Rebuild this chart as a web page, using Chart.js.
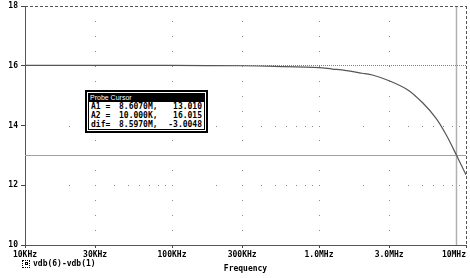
<!DOCTYPE html>
<html>
<head>
<meta charset="utf-8">
<script src="https://cdn.jsdelivr.net/npm/chart.js@4.4.1/dist/chart.umd.min.js"></script>
<style>
    html, body { margin: 0; padding: 0; background: #fff; }
    #wrap { position: relative; width: 470px; height: 278px; }
    #chart { position: absolute; left: 0; top: 0; }
    .mono { font-family: "DejaVu Sans Mono", monospace; font-weight: bold; font-size: 8px; color: #000; }
    #probe {
        position: absolute; left: 85px; top: 90px; width: 117px; height: 37px;
        border: 2px solid #000; padding: 1px; background: #fff;
    }
    #probe .inner { border: 1px solid #000; height: 35px; }
    #probe .bar {
        background: #000; color: #fff; height: 8px; line-height: 8px;
        font-family: "Liberation Sans", sans-serif; font-weight: normal; font-size: 7px; padding-left: 1px;
    }
    #probe .row { display: flex; height: 9px; line-height: 9px; padding: 0 2px 0 2px; white-space: pre; }
    #probe .row span { flex: none; }
    #probe .row span:nth-child(1) { width: 28px; }
    #probe .row span:nth-child(2) { width: 44px; }
    #probe .row span:nth-child(3) { flex: 1 1 auto; text-align: right; }
    #legend { position: absolute; left: 22px; top: 259px; display: flex; align-items: center; }
    #legend .mark {
        width: 6px; height: 6px; border: 1px dotted #000; margin-right: 3px;
        display: flex; align-items: center; justify-content: center;
    }
    #legend .mark i { display: block; width: 3px; height: 3px; border: 1px solid #000; box-sizing: border-box; }
</style>
</head>
<body>
<div id="wrap">
    <canvas id="chart" width="470" height="278"></canvas>
    <div id="probe" class="mono">
        <div class="inner">
            <div class="bar">Probe Cursor</div>
            <div class="row"><span>A1 =</span><span>8.6070M,</span><span>13.010</span></div>
            <div class="row"><span>A2 =</span><span>10.000K,</span><span>16.015</span></div>
            <div class="row"><span>dif=</span><span>8.5970M,</span><span>-3.0048</span></div>
        </div>
    </div>
    <div id="legend" class="mono"><span class="mark"><i></i></span><span>vdb(6)-vdb(1)</span></div>
</div>
<script>
/* ─── Data ─── */
const freqHz = [10e3, 30e3, 100e3, 300e3, 500e3, 1e6, 1.23e6, 1.43e6, 1.97e6, 2.31e6, 3.0e6, 4.0e6, 5.07e6, 6.26e6, 7.33e6, 8.607e6, 10e6];
const gainDb = [16.015, 16.015, 16.01, 16.0, 15.98, 15.94, 15.89, 15.86, 15.75, 15.69, 15.5, 15.2, 14.76, 14.24, 13.69, 13.01, 12.35];

const xTickValues = [10e3, 30e3, 100e3, 300e3, 1e6, 3e6, 10e6];
const xTickLabels = ['10KHz', '30KHz', '100KHz', '300KHz', '1.0MHz', '3.0MHz', '10MHz'];
const yTickValues = [10, 12, 14, 16, 18];

const cursorA1 = { x: 8.607e6, y: 13.010 };
const cursorA2 = { x: 10e3, y: 16.015 };

const TICK_FONT = { family: 'DejaVu Sans Mono', size: 8, weight: 'bold' };

/* ─── Dotted grid, cursors and dashed frame ─── */
const plotExtras = {
    id: 'plotExtras',
    beforeDatasetsDraw(chart) {
        const { ctx, chartArea: a, scales: { x, y } } = chart;
        ctx.save();
        ctx.fillStyle = '#8a8a8a';
        // dots on vertical gridlines, every 0.5 dB
        xTickValues.slice(1, -1).forEach(v => {
            const px = Math.round(x.getPixelForValue(v));
            for (let d = 10.5; d < 18; d += 0.5) {
                ctx.fillRect(px, Math.round(y.getPixelForValue(d)), 1, 1);
            }
        });
        // dots on horizontal gridlines at minor log positions
        [12, 14].forEach(d => {
            const py = Math.round(y.getPixelForValue(d));
            for (let dec = 1e4; dec < 1e7; dec *= 10) {
                for (let k = 1; k <= 10; k++) {
                    const v = dec * k;
                    if (v <= 1e4 || v >= 1e7) continue;
                    ctx.fillRect(Math.round(x.getPixelForValue(v)), py, 1, 1);
                }
            }
        });

        // cursor A1: solid grey lines
        ctx.strokeStyle = '#a0a0a0';
        ctx.lineWidth = 1;
        const cy = Math.round(y.getPixelForValue(cursorA1.y)) + 0.5;
        ctx.beginPath();
        ctx.moveTo(a.left, cy); ctx.lineTo(a.right, cy);
        ctx.stroke();
        const cx = Math.round(x.getPixelForValue(cursorA1.x)) + 0.5;
        ctx.lineWidth = 1.5;
        ctx.strokeStyle = '#b0b0b0';
        ctx.beginPath();
        ctx.moveTo(cx, a.top); ctx.lineTo(cx, a.bottom);
        ctx.stroke();

        // cursor A2: dotted horizontal line
        ctx.lineWidth = 1;
        ctx.strokeStyle = '#808080';
        ctx.setLineDash([1, 1]);
        const cy2 = Math.round(y.getPixelForValue(cursorA2.y)) + 0.5;
        ctx.beginPath();
        ctx.moveTo(a.left, cy2); ctx.lineTo(a.right, cy2);
        ctx.stroke();

        // dashed top and right frame
        ctx.strokeStyle = '#555';
        ctx.setLineDash([3, 2]);
        ctx.beginPath();
        ctx.moveTo(a.left, Math.round(a.top) + 0.5); ctx.lineTo(a.right, Math.round(a.top) + 0.5);
        ctx.moveTo(Math.round(a.right) + 0.5, a.top); ctx.lineTo(Math.round(a.right) + 0.5, a.bottom);
        ctx.stroke();
        ctx.restore();
    }
};

new Chart(document.getElementById('chart'), {
    type: 'line',
    data: {
        datasets: [{
            label: 'vdb(6)-vdb(1)',
            data: freqHz.map((f, i) => ({ x: f, y: gainDb[i] })),
            borderColor: '#555',
            borderWidth: 1.2,
            pointRadius: 0,
            tension: 0.3,
            fill: false,
        }]
    },
    options: {
        responsive: false,
        animation: false,
        layout: { padding: { left: 0, right: 4, top: 6, bottom: 0 } },
        plugins: { legend: { display: false }, tooltip: { enabled: false } },
        scales: {
            x: {
                type: 'logarithmic',
                min: 1e4,
                max: 1e7,
                afterBuildTicks: s => { s.ticks = xTickValues.map(v => ({ value: v })); },
                afterFit: s => { s.height = 33; s.paddingLeft = 0; s.paddingRight = 0; },
                ticks: {
                    autoSkip: false, maxRotation: 0, padding: 2, color: '#000', font: TICK_FONT,
                    // last label sits left of its tick, inside the window
                    callback: (v, i) => i === xTickLabels.length - 1 ? xTickLabels[i] + '     ' : xTickLabels[i]
                },
                grid: { drawOnChartArea: false, drawTicks: true, tickLength: 3, tickColor: '#444' },
                border: { display: true, color: '#555', dash: [3, 2] },
                title: {
                    display: true, text: 'Frequency', color: '#000', font: TICK_FONT,
                    padding: { top: 0, bottom: 4 }
                }
            },
            y: {
                min: 10,
                max: 18,
                afterBuildTicks: s => { s.ticks = yTickValues.map(v => ({ value: v })); },
                afterFit: s => { s.width = 25; s.paddingTop = 0; s.paddingBottom = 0; },
                ticks: { padding: 3, color: '#000', font: TICK_FONT },
                grid: { drawOnChartArea: false, drawTicks: true, tickLength: 4, tickColor: '#444' },
                border: { display: true, color: '#555', dash: [3, 2] }
            }
        }
    },
    plugins: [plotExtras]
});
</script>
</body>
</html>
